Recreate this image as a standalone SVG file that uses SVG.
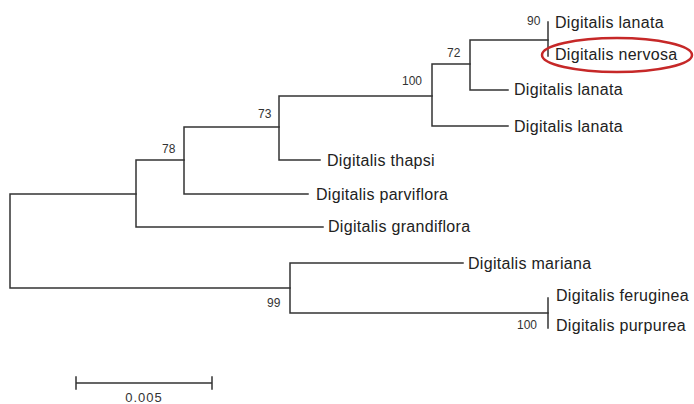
<svg xmlns="http://www.w3.org/2000/svg" width="694" height="404" viewBox="0 0 694 404">
<style>
.br{fill:none;stroke:#333;stroke-width:1.5;stroke-linecap:square}
.lb{font-family:"Liberation Sans",Arial,sans-serif;font-size:16px;fill:#222;letter-spacing:0.3px}
.bs{font-family:"Liberation Sans",Arial,sans-serif;font-size:12px;fill:#333}
</style>
<rect width="694" height="404" fill="#fff"/>
<g id="connectors">
<path class="br" d="M10,194V288M10,194H136M10,288H290"/>
<path class="br" d="M136,160V227M136,227H323M136,160H184"/>
<path class="br" d="M184,127V194M184,194H308M184,127H279"/>
<path class="br" d="M279,96V160M279,160H320M279,96H432"/>
<path class="br" d="M432,64V126M432,126H508M432,64H470"/>
<path class="br" d="M470,40V90M470,90H508M470,40H548"/>
<path class="br" d="M548,22V56"/>
<path class="br" d="M290,263V313M290,263H463M290,313H548"/>
<path class="br" d="M548,298V328"/>
</g>
<g id="node-90"><text class="bs" x="527" y="25">90</text></g>
<g id="node-72"><text class="bs" x="447" y="57">72</text></g>
<g id="node-100a"><text class="bs" x="402" y="85">100</text></g>
<g id="node-73"><text class="bs" x="258" y="118">73</text></g>
<g id="node-78"><text class="bs" x="162" y="153">78</text></g>
<g id="node-99"><text class="bs" x="267" y="307">99</text></g>
<g id="node-100b"><text class="bs" x="517" y="329">100</text></g>
<g id="leaf-lanata-1"><text class="lb" x="555" y="28">Digitalis lanata</text></g>
<g id="leaf-nervosa"><text class="lb" x="555" y="60">Digitalis nervosa</text>
<ellipse cx="617" cy="55" rx="75" ry="17" fill="none" stroke="#c62828" stroke-width="2.5"/></g>
<g id="leaf-lanata-2"><text class="lb" x="514" y="95">Digitalis lanata</text></g>
<g id="leaf-lanata-3"><text class="lb" x="514" y="132">Digitalis lanata</text></g>
<g id="leaf-thapsi"><text class="lb" x="327" y="166">Digitalis thapsi</text></g>
<g id="leaf-parviflora"><text class="lb" x="316" y="200">Digitalis parviflora</text></g>
<g id="leaf-grandiflora"><text class="lb" x="328" y="232">Digitalis grandiflora</text></g>
<g id="leaf-mariana"><text class="lb" x="468" y="269">Digitalis mariana</text></g>
<g id="leaf-feruginea"><text class="lb" x="556" y="301">Digitalis feruginea</text></g>
<g id="leaf-purpurea"><text class="lb" x="556" y="331">Digitalis purpurea</text></g>
<g id="scale-bar">
<path class="br" d="M76,383H212M76,377V389M212,377V389"/>
<text class="bs" x="144" y="402" text-anchor="middle" style="font-size:13px;letter-spacing:1px">0.005</text>
</g>
</svg>
